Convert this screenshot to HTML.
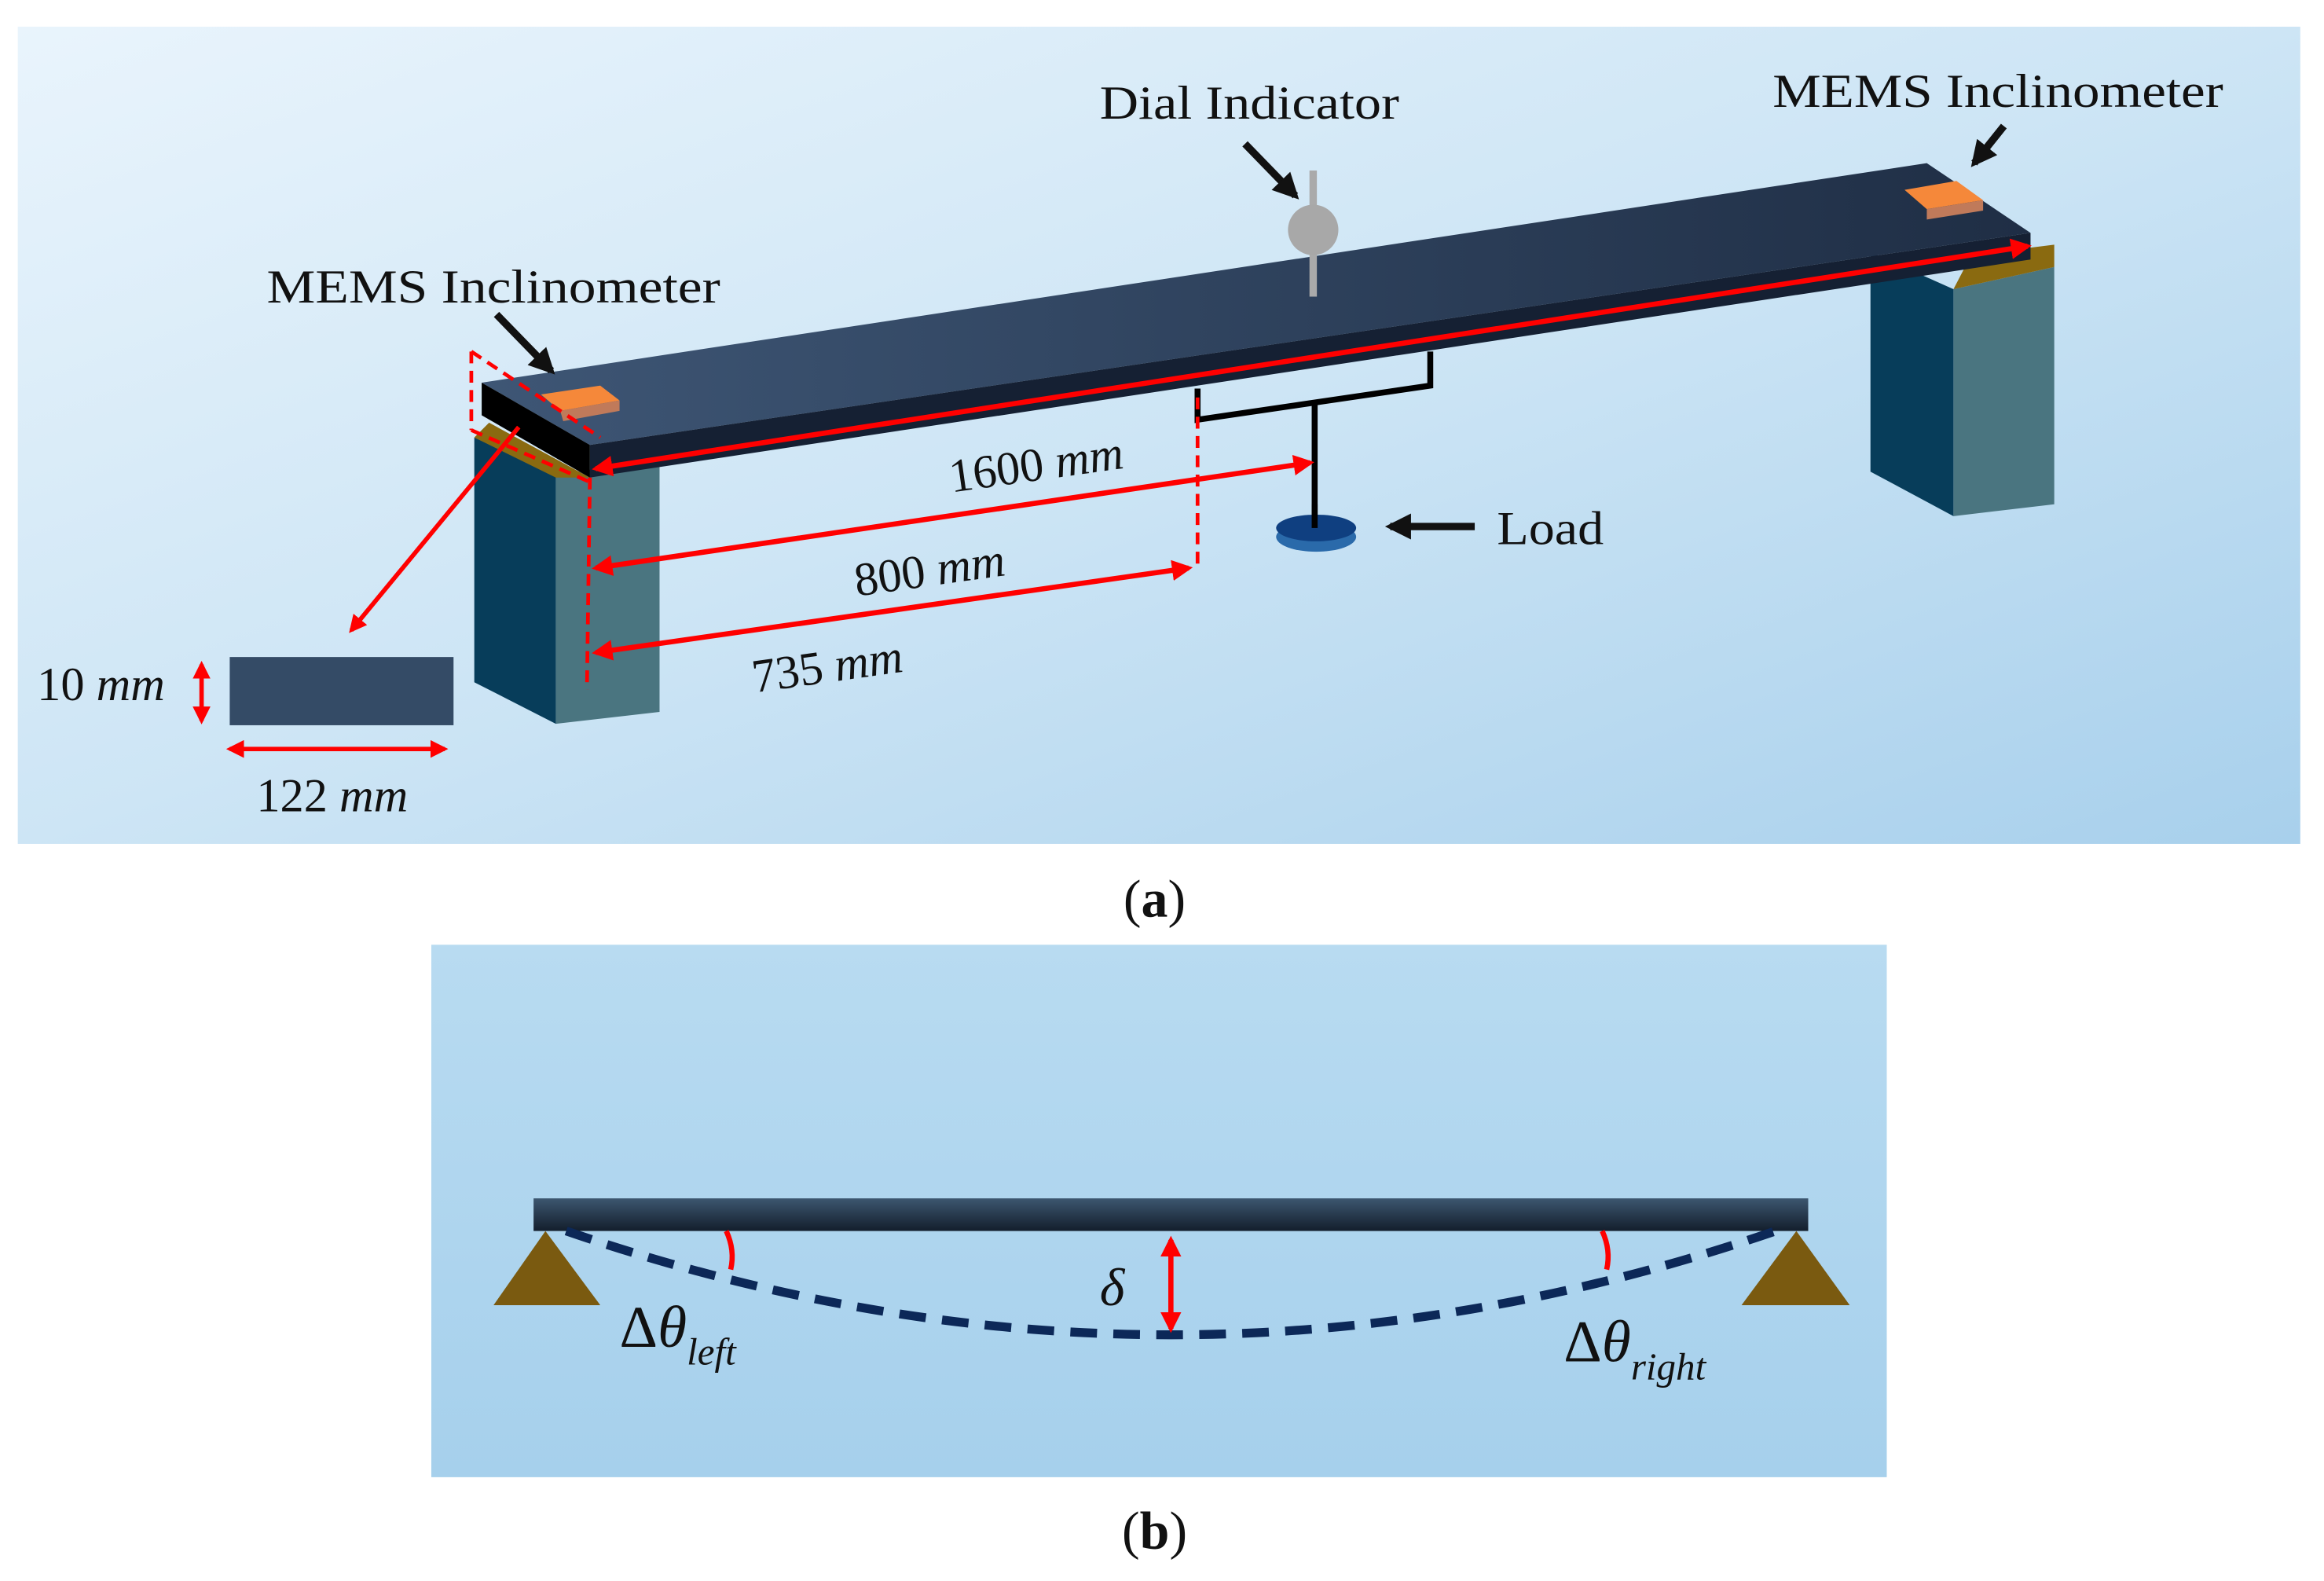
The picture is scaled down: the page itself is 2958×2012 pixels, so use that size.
<!DOCTYPE html>
<html><head><meta charset="utf-8"><style>
html,body{margin:0;padding:0;background:#fff;}
svg{display:block;}
text{font-family:"Liberation Serif",serif;fill:#111;}
</style></head><body>
<svg width="2958" height="2012" viewBox="0 0 1568 1066" preserveAspectRatio="none" xmlns="http://www.w3.org/2000/svg">
<defs>
<linearGradient id="bgA" x1="0" y1="0" x2="1" y2="1">
<stop offset="0" stop-color="#e9f4fc"/><stop offset="0.5" stop-color="#cde5f5"/><stop offset="1" stop-color="#a8d0ec"/></linearGradient>
<linearGradient id="bgB" x1="0" y1="0" x2="0" y2="1">
<stop offset="0" stop-color="#b8dbf1"/><stop offset="1" stop-color="#a6d0ec"/></linearGradient>
<linearGradient id="top" x1="0" y1="0" x2="1" y2="0">
<stop offset="0" stop-color="#3e5675"/><stop offset="1" stop-color="#1f2e45"/></linearGradient>
<linearGradient id="bb" x1="0" y1="0" x2="0" y2="1">
<stop offset="0" stop-color="#3d5770"/><stop offset="1" stop-color="#131e2c"/></linearGradient>
<marker id="ar" viewBox="0 0 10 10" refX="8" refY="5" markerWidth="4" markerHeight="4" orient="auto-start-reverse"><path d="M0,0L10,5L0,10z" fill="#f00"/></marker>
<marker id="ak" viewBox="0 0 10 10" refX="8" refY="5" markerWidth="3.5" markerHeight="3.5" orient="auto"><path d="M0,0L10,5L0,10z" fill="#111"/></marker>
</defs>
<rect x="12" y="18" width="1540" height="551" fill="url(#bgA)"/>
<!-- right pillar -->
<polygon points="1262,170 1318,195 1318,348 1262,318" fill="#073d5a"/>
<polygon points="1318,195 1386,180 1386,340 1318,348" fill="#4a7580"/>
<polygon points="1330,172 1386,165 1386,180 1318,195" fill="#8a6a10"/>
<!-- left pillar -->
<polygon points="320,295 375,320 375,488 320,460" fill="#073d5a"/>
<polygon points="375,320 445,310 445,480 375,488" fill="#4a7580"/>
<polygon points="330,285 398,322 375,322 320,295" fill="#8a6a10"/>
<!-- beam -->
<polygon points="325,258 1300,110 1370,157 398,300" fill="url(#top)"/>
<polygon points="398,300 1370,157 1370,175 398,322" fill="#152033"/>
<polygon points="325,258 398,300 398,322 325,280" fill="#000"/>
<!-- sensors -->
<polygon points="365,266 405,260 418,270 378,277" fill="#f5883a"/>
<polygon points="378,277 418,270 418,277 380,284" fill="#c07a5a"/>
<polygon points="1285,128 1320,122 1338,135 1300,141" fill="#f5883a"/>
<polygon points="1300,141 1338,135 1338,142 1300,148" fill="#c07a5a"/>
<!-- dial -->
<line x1="886" y1="115" x2="886" y2="200" stroke="#aaa" stroke-width="5"/>
<circle cx="886" cy="155" r="17" fill="#a8a8a8"/>
<!-- bracket -->
<polyline points="808,262 808,283 965,260 965,237" fill="none" stroke="#000" stroke-width="4"/>
<line x1="887" y1="272" x2="887" y2="355" stroke="#000" stroke-width="4"/>
<ellipse cx="888" cy="362" rx="27" ry="10" fill="#2a6aaa"/>
<ellipse cx="888" cy="356" rx="27" ry="9" fill="#0f3f80"/>
<line x1="887" y1="340" x2="887" y2="356" stroke="#000" stroke-width="4"/>
<!-- red lines -->
<line x1="402" y1="316" x2="1368" y2="166" stroke="#f00" stroke-width="3.5" marker-start="url(#ar)" marker-end="url(#ar)"/>
<line x1="402" y1="383" x2="884" y2="312" stroke="#f00" stroke-width="3.5" marker-start="url(#ar)" marker-end="url(#ar)"/>
<line x1="402" y1="440" x2="802" y2="383" stroke="#f00" stroke-width="3.5" marker-start="url(#ar)" marker-end="url(#ar)"/>
<line x1="398" y1="322" x2="396" y2="465" stroke="#f00" stroke-width="2.5" stroke-dasharray="8,5"/>
<line x1="808" y1="268" x2="808" y2="385" stroke="#f00" stroke-width="2.5" stroke-dasharray="8,5"/>
<line x1="318" y1="237" x2="318" y2="290" stroke="#f00" stroke-width="2.5" stroke-dasharray="8,5"/>
<line x1="318" y1="290" x2="398" y2="325" stroke="#f00" stroke-width="2.5" stroke-dasharray="8,5"/>
<line x1="318" y1="237" x2="405" y2="295" stroke="#f00" stroke-width="2.5" stroke-dasharray="8,5"/>
<line x1="350" y1="288" x2="237" y2="425" stroke="#f00" stroke-width="3" marker-end="url(#ar)"/>
<!-- cross section -->
<rect x="155" y="443" width="151" height="46" fill="#344b66"/>
<line x1="136" y1="448" x2="136" y2="486" stroke="#f00" stroke-width="3" marker-start="url(#ar)" marker-end="url(#ar)"/>
<line x1="155" y1="505" x2="300" y2="505" stroke="#f00" stroke-width="3" marker-start="url(#ar)" marker-end="url(#ar)"/>
<!-- black arrows -->
<line x1="840" y1="97" x2="874" y2="132" stroke="#111" stroke-width="5" marker-end="url(#ak)"/>
<line x1="1352" y1="85" x2="1332" y2="110" stroke="#111" stroke-width="5" marker-end="url(#ak)"/>
<line x1="335" y1="212" x2="372" y2="250" stroke="#111" stroke-width="5" marker-end="url(#ak)"/>
<line x1="995" y1="355" x2="938" y2="355" stroke="#111" stroke-width="5" marker-end="url(#ak)"/>
<!-- texts -->
<text x="742" y="80" font-size="32" textLength="202" lengthAdjust="spacingAndGlyphs">Dial Indicator</text>
<text x="1196" y="72" font-size="32" textLength="304" lengthAdjust="spacingAndGlyphs">MEMS Inclinometer</text>
<text x="180" y="204" font-size="32" textLength="306" lengthAdjust="spacingAndGlyphs">MEMS Inclinometer</text>
<text x="1010" y="367" font-size="32" textLength="72" lengthAdjust="spacingAndGlyphs">Load</text>
<text x="0" y="0" font-size="32" transform="translate(642,332) rotate(-8)">1600 <tspan font-style="italic">mm</tspan></text>
<text x="0" y="0" font-size="32" transform="translate(578,402) rotate(-8)">800 <tspan font-style="italic">mm</tspan></text>
<text x="0" y="0" font-size="32" transform="translate(509,467) rotate(-8)">735 <tspan font-style="italic">mm</tspan></text>
<text x="25" y="472" font-size="32">10 <tspan font-style="italic">mm</tspan></text>
<text x="173" y="547" font-size="32">122 <tspan font-style="italic">mm</tspan></text>
<text x="758" y="618" font-size="36">(<tspan font-weight="bold">a</tspan>)</text>
<!-- panel b -->
<rect x="291" y="637" width="982" height="359" fill="url(#bgB)"/>
<polygon points="368,830 333,880 405,880" fill="#7a5a10"/>
<polygon points="1212,830 1175,880 1248,880" fill="#7a5a10"/>
<rect x="360" y="808" width="860" height="22" fill="url(#bb)"/>
<path d="M382,830 Q790,970 1198,830" fill="none" stroke="#0c2858" stroke-width="6" stroke-dasharray="18,11"/>
<path d="M490,830 Q496,843 493,856" fill="none" stroke="#f00" stroke-width="3.5"/>
<path d="M1081,830 Q1087,843 1084,856" fill="none" stroke="#f00" stroke-width="3.5"/>
<line x1="790" y1="836" x2="790" y2="896" stroke="#f00" stroke-width="3.5" marker-start="url(#ar)" marker-end="url(#ar)"/>
<text x="742" y="880" font-size="36" font-style="italic">δ</text>
<text x="418" y="908" font-size="40">Δ<tspan font-style="italic">θ</tspan><tspan font-size="26" font-style="italic" dy="12">left</tspan></text>
<text x="1055" y="918" font-size="40">Δ<tspan font-style="italic">θ</tspan><tspan font-size="26" font-style="italic" dy="12">right</tspan></text>
<text x="757" y="1044" font-size="36">(<tspan font-weight="bold">b</tspan>)</text>
</svg>
</body></html>
